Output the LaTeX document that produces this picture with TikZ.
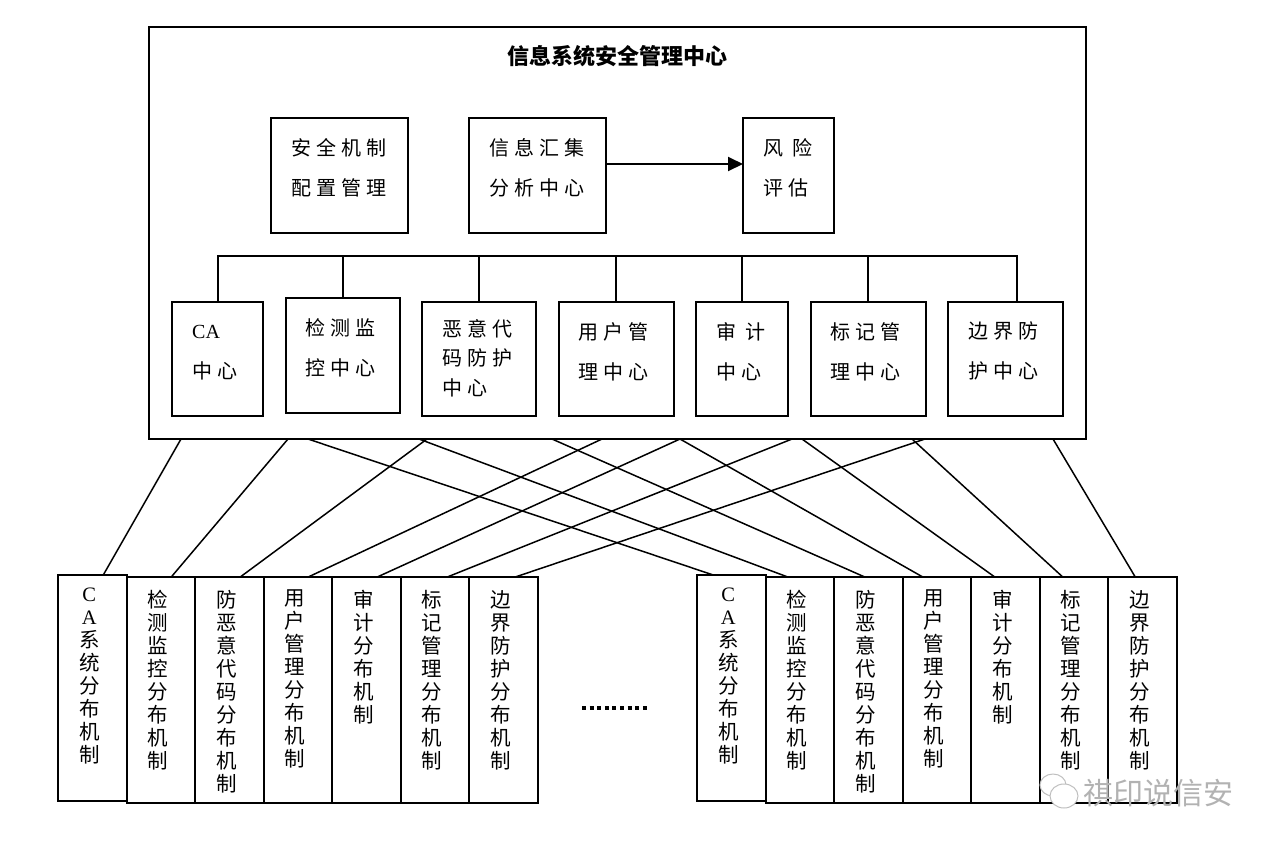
\documentclass[tikz,border=0pt]{standalone}
\usepackage{fontspec}
\setmainfont{Liberation Serif}
\newfontfamily\cjk{Noto Sans CJK SC}
\newfontfamily\cjkw[LetterSpace=25]{Noto Sans CJK SC}
\usetikzlibrary{positioning,arrows.meta}

\begin{document}
\begin{tikzpicture}[x=1pt,y=-1pt,
		box/.style={
			draw,
			line width=2pt,
			inner sep=0pt,
			outer sep=0pt
		},
		tag/.style={
			font=\cjkw\fontsize{20}{40}\selectfont,
			align=left,
			inner sep=0pt,
			anchor=north west,
			xshift=20pt,
			yshift=-20pt
		},
		vtag/.style={
			font=\cjk\fontsize{20.5}{23}\selectfont,
			align=center,
			inner sep=0pt,
			anchor=north,
			xshift=-3pt,
			yshift=-13pt
		},
		title/.style={
			font=\cjk\bfseries\fontsize{22}{26}\selectfont,
			inner sep=0pt,
			anchor=center,
			yshift=-29pt
		},
		bus/.style={line width=2pt},
		link/.style={line width=1.5pt},
		node distance=22.5pt
		]
		\useasboundingbox (0,0) rectangle (1275,847);
		
		% management centre
		\node[box, anchor=north west, minimum width=937, minimum height=412,
		label={[title]north:信息系统安全管理中心}] (hub) at (149,27) {};
		
		\node[box, anchor=north west, minimum width=137, minimum height=115,
		label={[tag]north west:{安全机制\\配置管理}}] (peizhi) at (271,118) {};
		\node[box, minimum width=137, minimum height=115, right=61pt of peizhi,
		label={[tag]north west:{信息汇集\\分析中心}}] (huiji) {};
		\node[box, minimum width=91, minimum height=115, right=137pt of huiji,
		label={[tag]north west:{风 险\\评估}}] (fengxian) {};
		
		\draw[line width=2pt, -{Triangle[length=15pt,width=14pt]}]
		([yshift=11.5pt]huiji.east) -- ([yshift=11.5pt]fengxian.west);
		
		\node[box, anchor=north west, minimum width=91, minimum height=114,
		label={[tag, yshift=-3pt]north west:{{\rmfamily CA}\\中心}}] (ca) at (172,302) {};
		\node[box, minimum width=114, minimum height=115, right=of ca, yshift=3.5pt,
		label={[tag]north west:{检测监\\控中心}}] (jiance) {};
		\node[box, minimum width=114, minimum height=114, right=of jiance, yshift=-3.5pt,
		label={[tag, font=\cjkw\fontsize{20}{29.5}\selectfont, yshift=3pt]north west:{恶意代\\码防护\\中心}}] (eyi) {};
		\node[box, minimum width=115, minimum height=114, right=of eyi,
		label={[tag]north west:{用户管\\理中心}}] (yonghu) {};
		\node[box, minimum width=92, minimum height=114, right=of yonghu,
		label={[tag]north west:{审 计\\中心}}] (shenji) {};
		\node[box, minimum width=115, minimum height=114, right=of shenji,
		label={[tag]north west:{标记管\\理中心}}] (biaoji) {};
		\node[box, minimum width=115, minimum height=114, right=of biaoji,
		label={[tag]north west:{边界防\\护中心}}] (bianjie) {};
		
		\coordinate (busl) at (217,256);
		\coordinate (busr) at (1017,256);
		\draw[bus] (ca.north) -- (ca.north |- busl) -- (busr) -- (busr |- bianjie.north);
		\foreach \b in {jiance,eyi,yonghu,shenji,biaoji}
		\draw[bus] (\b.north) -- (\b.north |- busl);
		
		% distributed mechanisms, first group
		\node[box, anchor=north west, minimum width=68.5, minimum height=226,
		label={[vtag]north:{{\rmfamily C}\\{\rmfamily A}\\系\\统\\分\\布\\机\\制}}] (l1) at (58,575) {};
		\node[box, minimum width=68.5, minimum height=226, right=0pt of l1, yshift=-2pt,
		label={[vtag]north:{检\\测\\监\\控\\分\\布\\机\\制}}] (l2) {};
		\node[box, minimum width=68.5, minimum height=226, right=0pt of l2,
		label={[vtag]north:{防\\恶\\意\\代\\码\\分\\布\\机\\制}}] (l3) {};
		\node[box, minimum width=68.5, minimum height=226, right=0pt of l3,
		label={[vtag]north:{用\\户\\管\\理\\分\\布\\机\\制}}] (l4) {};
		\node[box, minimum width=68.5, minimum height=226, right=0pt of l4,
		label={[vtag]north:{审\\计\\分\\布\\机\\制}}] (l5) {};
		\node[box, minimum width=68.5, minimum height=226, right=0pt of l5,
		label={[vtag]north:{标\\记\\管\\理\\分\\布\\机\\制}}] (l6) {};
		\node[box, minimum width=68.5, minimum height=226, right=0pt of l6,
		label={[vtag]north:{边\\界\\防\\护\\分\\布\\机\\制}}] (l7) {};
		
		% second group
		\node[box, anchor=north west, minimum width=68.5, minimum height=226,
		label={[vtag]north:{{\rmfamily C}\\{\rmfamily A}\\系\\统\\分\\布\\机\\制}}] (r1) at (697,575) {};
		\node[box, minimum width=68.5, minimum height=226, right=0pt of r1, yshift=-2pt,
		label={[vtag]north:{检\\测\\监\\控\\分\\布\\机\\制}}] (r2) {};
		\node[box, minimum width=68.5, minimum height=226, right=0pt of r2,
		label={[vtag]north:{防\\恶\\意\\代\\码\\分\\布\\机\\制}}] (r3) {};
		\node[box, minimum width=68.5, minimum height=226, right=0pt of r3,
		label={[vtag]north:{用\\户\\管\\理\\分\\布\\机\\制}}] (r4) {};
		\node[box, minimum width=68.5, minimum height=226, right=0pt of r4,
		label={[vtag]north:{审\\计\\分\\布\\机\\制}}] (r5) {};
		\node[box, minimum width=68.5, minimum height=226, right=0pt of r5,
		label={[vtag]north:{标\\记\\管\\理\\分\\布\\机\\制}}] (r6) {};
		\node[box, minimum width=68.5, minimum height=226, right=0pt of r6,
		label={[vtag]north:{边\\界\\防\\护\\分\\布\\机\\制}}] (r7) {};
		
		\draw[line width=4pt, dash pattern=on 4pt off 3.6pt] (582,708) -- (647,708);
		
		% links from the centre down to both groups
		\foreach \n/\x in {1/181,2/288,3/427,4/602,5/680,6/792,7/925,
			8/308,9/419,10/552,11/680,12/802,13/912,14/1053}
		\coordinate (top\n) at (\x,439);
		\foreach \n/\b/\d in {1/l1/11,2/l2/10.5,3/l3/11,4/l4/10.5,5/l5/11,6/l6/12.5,7/l7/12,
			8/r1/-18,9/r2/-12,10/r3/-3.5,11/r4/-14,12/r5/-10.5,13/r6/-11,14/r7/-7}
		\draw[link] (top\n) -- ([xshift=\d pt]\b.north);
		
		% watermark
		\draw[gray!50, fill=white, line width=1pt] (1053,785) ellipse (13 and 11);
		\draw[gray!50, fill=white, line width=1pt] (1064,796) ellipse (14 and 12);
		\node[font=\cjk\fontsize{30}{32}\selectfont, text=gray!60, inner sep=0pt] (wm) at (1158,793) {祺印说信安};
		
		\end{tikzpicture}
\end{document}
